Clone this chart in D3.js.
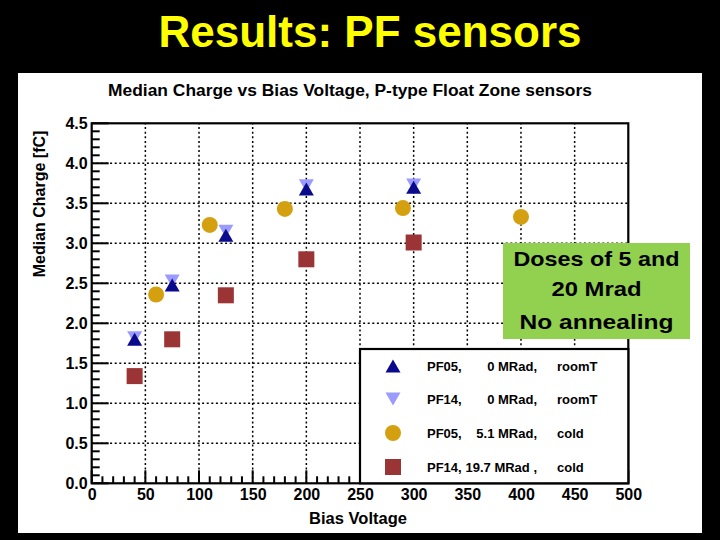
<!DOCTYPE html>
<html><head><meta charset="utf-8">
<script src="https://cdn.jsdelivr.net/npm/d3@7"></script>
<style>
html,body{margin:0;padding:0;background:#000;}
svg text{font-family:"Liberation Sans",Arial,Helvetica,sans-serif;}
</style></head>
<body>
<svg id="c" width="720" height="540"></svg>
<script>
// ---- data ----
const slideTitle = "Results: PF sensors";
const chartTitle = "Median Charge vs Bias Voltage, P-type Float Zone sensors";
const xTitle = "Bias Voltage";
const yTitle = "Median Charge [fC]";
const xTickLabels = [0,50,100,150,200,250,300,350,400,450,500];
const yTickLabels = ["0.0","0.5","1.0","1.5","2.0","2.5","3.0","3.5","4.0","4.5"];

const pf05RoomV = [40, 75, 125, 200, 300];
const pf05RoomQ = [1.80, 2.48, 3.10, 3.68, 3.70];
const pf14RoomV = [40, 75, 125, 200, 300];
const pf14RoomQ = [1.82, 2.53, 3.15, 3.72, 3.73];
const pf05ColdV = [60, 110, 180, 290, 400];
const pf05ColdQ = [2.36, 3.23, 3.43, 3.44, 3.33];
const pf14ColdV = [40, 75, 125, 200, 300];
const pf14ColdQ = [1.34, 1.80, 2.35, 2.80, 3.01];

const legendNames = ["PF05,", "PF14,", "PF05,", "PF14,"];
const legendDoses = ["0 MRad,", "0 MRad,", "5.1 MRad,", "19.7 MRad ,"];
const legendConds = ["roomT", "roomT", "cold", "cold"];
const noteLines = ["Doses of 5 and", "20 Mrad", "No annealing"];

// ---- drawing ----
const svg = d3.select("#c");
svg.append("rect").attr("width",720).attr("height",540).attr("fill","#000");
svg.append("text").attr("x",370).attr("y",47).attr("text-anchor","middle")
  .attr("font-size",44).attr("font-weight","bold").attr("fill","#ffff00").text(slideTitle);
svg.append("rect").attr("x",18).attr("y",73).attr("width",684).attr("height",460).attr("fill","#ffffff");

const x = d3.scaleLinear().domain([0,500]).range([91.7,628.3]);
const y = d3.scaleLinear().domain([0,4.5]).range([483.3,123.3]);

svg.append("text").attr("x",350).attr("y",96).attr("text-anchor","middle")
  .attr("font-size",17.4).attr("font-weight","bold").attr("fill","#000").text(chartTitle);

// grid
const g = svg.append("g");
g.selectAll(".gx").data(xTickLabels.slice(1,-1)).join("line")
  .attr("x1",d=>x(d)).attr("x2",d=>x(d)).attr("y1",y(0)).attr("y2",y(4.5))
  .attr("stroke","#000").attr("stroke-width",1.5).attr("stroke-dasharray","2,2.6");
g.selectAll(".gy").data(yTickLabels.slice(1,-1).map(Number)).join("line")
  .attr("x1",x(0)).attr("x2",x(500)).attr("y1",d=>y(d)).attr("y2",d=>y(d))
  .attr("stroke","#000").attr("stroke-width",1.5).attr("stroke-dasharray","2,2.6");

// ticks (inside)
const xMinor = x.ticks(50), yMinor = y.ticks(45);
g.selectAll(".tx").data(xMinor).join("line")
  .attr("x1",d=>x(d)).attr("x2",d=>x(d)).attr("y1",y(0))
  .attr("y2",d=>y(0) - (d%50===0 ? 13 : 7))
  .attr("stroke","#000").attr("stroke-width",2);
g.selectAll(".ty").data(yMinor).join("line")
  .attr("y1",d=>y(d)).attr("y2",d=>y(d)).attr("x1",x(0))
  .attr("x2",d=>x(0) + (Math.abs(d*2-Math.round(d*2))<1e-6 ? 17 : 8))
  .attr("stroke","#000").attr("stroke-width",2);

// frame
svg.append("rect").attr("x",x(0)).attr("y",y(4.5)).attr("width",x(500)-x(0)).attr("height",y(0)-y(4.5))
  .attr("fill","none").attr("stroke","#000").attr("stroke-width",2.2);

// axis labels via d3 axes
const xAxis = svg.append("g").attr("transform",`translate(0,${y(0)})`)
  .call(d3.axisBottom(x).tickValues(xTickLabels).tickSize(0).tickPadding(5).tickFormat(d3.format("d")));
xAxis.select(".domain").remove();
xAxis.selectAll("text").attr("font-size",16).attr("font-weight","bold").attr("fill","#000")
  .attr("font-family","Liberation Sans, Arial, sans-serif");
const yAxis = svg.append("g").attr("transform",`translate(${x(0)},0)`)
  .call(d3.axisLeft(y).tickValues(yTickLabels.map(Number)).tickSize(0).tickPadding(4).tickFormat(d3.format(".1f")));
yAxis.select(".domain").remove();
yAxis.selectAll("text").attr("font-size",16).attr("font-weight","bold").attr("fill","#000")
  .attr("font-family","Liberation Sans, Arial, sans-serif");

svg.append("text").attr("x",358).attr("y",524).attr("text-anchor","middle")
  .attr("font-size",16.5).attr("font-weight","bold").text(xTitle);
svg.append("text").attr("transform","translate(45,204) rotate(-90)").attr("text-anchor","middle")
  .attr("font-size",16).attr("font-weight","bold").text(yTitle);

// markers
const colors = {pf05Room:"#0a0a8c", pf14Room:"#9a9aff", pf05Cold:"#d4a010", pf14Cold:"#9b3434"};
function drawTriangle(sel, cx, cy, color, down){
  const w=15,h=13;
  const pts = down ? [[cx-w/2,cy-h/2],[cx+w/2,cy-h/2],[cx,cy+h/2]] : [[cx-w/2,cy+h/2],[cx+w/2,cy+h/2],[cx,cy-h/2]];
  sel.append("path").attr("d","M"+pts.map(p=>p.join(",")).join("L")+"Z").attr("fill",color);
}
const m = svg.append("g");
pf05ColdV.forEach((v,i)=> m.append("circle").attr("cx",x(v)).attr("cy",y(pf05ColdQ[i])).attr("r",8).attr("fill",colors.pf05Cold));
pf14ColdV.forEach((v,i)=> m.append("rect").attr("x",x(v)-8).attr("y",y(pf14ColdQ[i])-8).attr("width",16).attr("height",16).attr("fill",colors.pf14Cold));
pf14RoomV.forEach((v,i)=> drawTriangle(m, x(v), y(pf14RoomQ[i]), colors.pf14Room, true));
pf05RoomV.forEach((v,i)=> drawTriangle(m, x(v), y(pf05RoomQ[i]), colors.pf05Room, false));

// legend
const L = svg.append("g");
L.append("rect").attr("x",360).attr("y",349).attr("width",x(500)-360).attr("height",y(0)-349)
  .attr("fill","#fff").attr("stroke","#000").attr("stroke-width",2.2);
const rowY = [366, 399, 433, 467];
const mx = 393;
drawTriangle(L, mx, rowY[0], colors.pf05Room, false);
drawTriangle(L, mx, rowY[1], colors.pf14Room, true);
L.append("circle").attr("cx",mx).attr("cy",rowY[2]).attr("r",8).attr("fill",colors.pf05Cold);
L.append("rect").attr("x",mx-8).attr("y",rowY[3]-8).attr("width",16).attr("height",16).attr("fill",colors.pf14Cold);
rowY.forEach((ry,i)=>{
  L.append("text").attr("x",427).attr("y",ry+5).attr("font-size",13).attr("font-weight","bold").text(legendNames[i]);
  L.append("text").attr("x",537).attr("y",ry+5).attr("text-anchor","end").attr("font-size",13).attr("font-weight","bold")
    .attr("xml:space","preserve").style("white-space","pre").text(legendDoses[i]);
  L.append("text").attr("x",557).attr("y",ry+5).attr("font-size",13).attr("font-weight","bold").text(legendConds[i]);
});

// note box
const N = svg.append("g");
N.append("rect").attr("x",503).attr("y",243).attr("width",187).attr("height",96).attr("fill","#92d050");
const noteY = [266, 296, 329];
const noteW = [166, 90, 154];
noteLines.forEach((t,i)=>{
  N.append("text").attr("x",596.5).attr("y",noteY[i]).attr("text-anchor","middle")
    .attr("font-size",21).attr("font-weight","bold").attr("fill","#000")
    .attr("textLength",noteW[i]).attr("lengthAdjust","spacingAndGlyphs").text(t);
});
</script>
</body></html>
